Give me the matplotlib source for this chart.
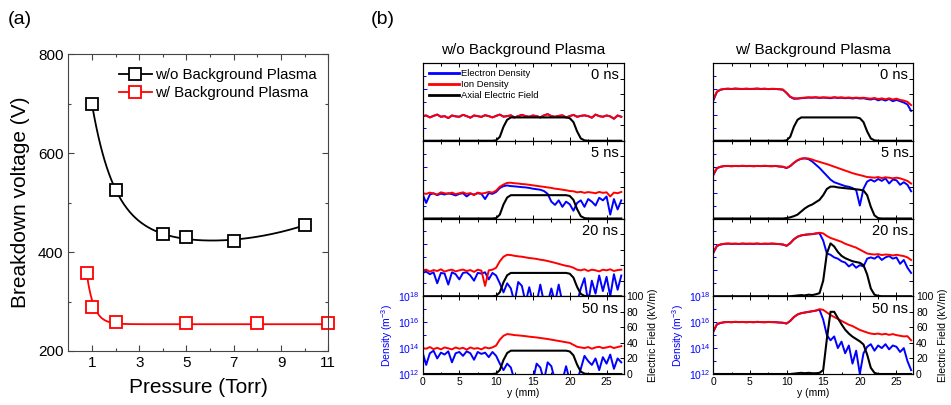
import numpy as np
import matplotlib
matplotlib.use("Agg")
import matplotlib.pyplot as plt
from matplotlib.lines import Line2D
from matplotlib.ticker import FixedLocator, NullFormatter, MultipleLocator, LogFormatterMathtext

plt.rcParams['font.family'] = ['Liberation Sans', 'DejaVu Sans']
plt.rcParams['mathtext.fontset'] = 'custom'
plt.rcParams['mathtext.rm'] = 'Liberation Sans'
plt.rcParams['mathtext.it'] = 'Liberation Sans:italic'

# ---------------- panel (a) data ----------------
pressure_wo = [1, 2, 4, 5, 7, 10]
voltage_wo = [700, 525, 437, 430, 422, 455]
pressure_w = [0.8, 1, 2, 5, 8, 11]
voltage_w = [358, 288, 258, 256, 256, 256]
label_wo = "w/o Background Plasma"
label_w = "w/ Background Plasma"

# ---------------- panel (b) data (log10 density, field in kV/m) ----------------
y_step = 0.5  # mm, sampling of the traces below (0 ... 27 mm)
times = ["0 ns", "5 ns", "20 ns", "50 ns"]

L0_ion = [13.90, 13.95, 13.80, 13.92, 14.02, 13.85, 13.90, 13.75, 13.95, 13.88,
          13.85, 14.00, 13.90, 13.78, 13.95, 13.90, 13.84, 13.97, 13.90, 13.80,
          13.92, 14.02, 13.86, 13.90, 13.96, 13.80, 13.90, 14.00, 13.90, 13.85,
          13.95, 13.90, 13.80, 13.96, 14.05, 13.90, 13.85, 13.92, 13.96, 13.80,
          13.90, 14.00, 13.85, 13.92, 13.96, 13.90, 13.78, 14.02, 13.90, 13.85,
          13.95, 13.88, 13.70, 13.95, 13.85]
L0_ele = L0_ion
L5_ion = [13.95, 13.90, 14.00, 13.92, 13.85, 14.02, 13.95, 13.90, 14.00, 13.88,
          13.95, 14.02, 13.90, 13.96, 13.80, 14.00, 13.92, 13.97, 14.05, 14.00,
          14.15, 14.45, 14.62, 14.75, 14.76, 14.72, 14.70, 14.66, 14.64, 14.60,
          14.56, 14.52, 14.48, 14.44, 14.40, 14.36, 14.30, 14.27, 14.22, 14.18,
          14.12, 14.10, 14.02, 14.06, 13.98, 14.04, 14.00, 13.95, 14.05, 13.98,
          14.02, 13.70, 14.00, 13.95, 14.05]
L5_ele = [13.90, 13.20, 13.85, 13.95, 13.80, 13.92, 13.85, 13.95, 13.88, 13.78,
          13.90, 13.95, 13.70, 13.92, 13.85, 13.95, 13.90, 13.50, 13.96, 13.90,
          14.05, 14.35, 14.50, 14.55, 14.50, 14.48, 14.45, 14.42, 14.40, 14.36,
          14.30, 14.26, 14.22, 14.12, 13.90, 13.30, 13.05, 13.40, 12.90, 13.30,
          13.10, 12.60, 13.20, 13.40, 12.90, 13.50, 13.30, 13.00, 13.60, 13.40,
          13.70, 12.30, 13.50, 12.70, 13.40]
L20_ion = [14.00, 14.05, 13.90, 14.02, 13.95, 14.08, 13.90, 14.00, 14.05, 13.92,
           14.00, 14.06, 13.95, 14.02, 13.88, 14.05, 13.98, 12.80, 14.00, 14.05,
           14.20, 14.70, 15.05, 15.20, 15.18, 15.12, 15.08, 15.05, 15.00, 14.95,
           14.92, 14.88, 14.82, 14.78, 14.72, 14.65, 14.58, 14.50, 14.42, 14.35,
           14.30, 14.20, 14.05, 14.00, 14.08, 13.95, 14.05, 14.00, 13.92, 14.05,
           14.00, 14.08, 13.95, 14.02, 14.05]
L20_ele = [13.80, 13.90, 13.70, 13.85, 13.00, 13.80, 13.75, 12.90, 13.85, 13.70,
           13.30, 13.80, 13.85, 13.60, 13.20, 13.80, 13.75, 13.85, 13.30, 13.80,
           13.60, 13.00, 12.30, 13.00, 12.60, 11.50, 13.10, 12.80, 11.50, 12.70,
           11.50, 11.50, 12.90, 11.50, 11.50, 12.60, 11.50, 12.90, 11.50, 11.50,
           11.50, 11.50, 11.50, 12.60, 13.40, 11.50, 13.20, 12.20, 13.60, 12.40,
           13.50, 12.00, 13.70, 12.50, 13.60]
L50_ion = [14.00, 13.95, 14.08, 13.92, 14.02, 13.90, 14.05, 13.98, 13.90, 14.05,
           13.95, 14.02, 13.88, 14.05, 13.95, 14.00, 13.90, 14.06, 13.98, 14.05,
           14.20, 14.65, 14.95, 15.08, 15.05, 15.00, 14.98, 14.95, 14.92, 14.88,
           14.85, 14.82, 14.78, 14.74, 14.70, 14.65, 14.60, 14.55, 14.50, 14.45,
           14.40, 14.25, 14.10, 14.05, 14.00, 14.08, 13.95, 14.05, 14.10, 14.00,
           14.05, 14.12, 14.00, 14.08, 14.15]
L50_ele = [13.70, 12.70, 13.60, 13.80, 13.20, 13.65, 13.50, 13.75, 12.90, 13.60,
           13.70, 13.40, 13.75, 13.60, 13.10, 13.70, 13.55, 13.65, 13.30, 13.70,
           13.40, 12.80, 12.30, 12.80, 12.50, 11.50, 11.50, 11.50, 11.50, 11.50,
           11.50, 12.80, 12.50, 11.50, 12.90, 12.60, 11.50, 11.50, 11.50, 12.60,
           11.50, 11.50, 11.50, 12.40, 13.40, 13.00, 12.70, 13.20, 12.30, 13.30,
           12.80, 13.50, 12.40, 13.20, 12.90]

R0_ion = [15.20, 15.80, 15.95, 16.00, 16.02, 16.00, 16.03, 16.01, 16.00, 16.02,
          16.00, 16.01, 16.03, 16.00, 16.02, 15.99, 16.01, 16.00, 15.98, 15.95,
          15.70, 15.40, 15.28, 15.27, 15.30, 15.33, 15.35, 15.34, 15.36, 15.33,
          15.35, 15.34, 15.32, 15.36, 15.33, 15.35, 15.31, 15.34, 15.30, 15.33,
          15.30, 15.32, 15.28, 15.25, 15.30, 15.22, 15.27, 15.20, 15.28, 15.18,
          15.25, 15.15, 15.10, 15.00, 14.75]
R0_ele = [15.10, 15.78, 15.94, 15.99, 16.01, 15.99, 16.02, 16.00, 15.99, 16.01,
          15.99, 16.00, 16.02, 15.99, 16.01, 15.98, 16.00, 15.99, 15.97, 15.94,
          15.68, 15.38, 15.24, 15.25, 15.28, 15.31, 15.33, 15.32, 15.34, 15.30,
          15.33, 15.31, 15.28, 15.34, 15.30, 15.32, 15.28, 15.31, 15.26, 15.30,
          15.26, 15.28, 15.22, 15.18, 15.25, 15.12, 15.20, 15.10, 15.22, 15.05,
          15.15, 15.05, 14.95, 14.80, 14.30]
R5_ion = [15.40, 15.90, 16.00, 16.05, 16.06, 16.04, 16.06, 16.05, 16.07, 16.05,
          16.06, 16.04, 16.06, 16.05, 16.07, 16.05, 16.04, 16.06, 16.02, 16.00,
          15.90, 16.05, 16.30, 16.50, 16.62, 16.65, 16.63, 16.55, 16.45, 16.37,
          16.28, 16.20, 16.10, 16.00, 15.90, 15.80, 15.70, 15.60, 15.50, 15.42,
          15.35, 15.28, 15.20, 15.18, 15.15, 15.20, 15.12, 15.18, 15.15, 15.10,
          15.15, 15.10, 15.00, 14.90, 14.70]
R5_ele = [15.35, 15.88, 15.99, 16.04, 16.05, 16.03, 16.05, 16.04, 16.06, 16.04,
          16.05, 16.03, 16.05, 16.04, 16.06, 16.04, 16.03, 16.05, 16.01, 15.99,
          15.89, 16.04, 16.29, 16.49, 16.61, 16.64, 16.58, 16.40, 16.15, 15.90,
          15.60, 15.30, 15.00, 14.80, 14.70, 14.60, 14.50, 14.45, 14.35, 14.20,
          13.00, 14.30, 14.85, 15.00, 14.85, 15.05, 14.90, 15.10, 14.70, 15.00,
          14.95, 14.60, 14.80, 14.60, 14.10]
R20_ion = [15.40, 15.90, 16.00, 16.05, 16.07, 16.05, 16.06, 16.04, 16.07, 16.05,
           16.06, 16.05, 16.07, 16.04, 16.06, 16.05, 16.07, 16.05, 16.03, 16.00,
           15.90, 16.10, 16.40, 16.60, 16.70, 16.75, 16.78, 16.80, 16.85, 16.90,
           16.85, 16.65, 16.50, 16.40, 16.30, 16.20, 16.05, 15.95, 15.85, 15.75,
           15.60, 15.45, 15.30, 15.25, 15.22, 15.25, 15.18, 15.22, 15.20, 15.15,
           15.20, 15.15, 15.10, 15.00, 14.80]
R20_ele = [15.35, 15.88, 15.99, 16.04, 16.06, 16.04, 16.05, 16.03, 16.06, 16.04,
           16.05, 16.04, 16.06, 16.03, 16.05, 16.04, 16.06, 16.04, 16.02, 15.99,
           15.89, 16.09, 16.39, 16.59, 16.69, 16.74, 16.77, 16.79, 16.84, 16.86,
           16.30, 15.30, 15.20, 15.00, 14.90, 14.70, 14.60, 14.30, 14.50, 14.20,
           14.40, 14.30, 14.90, 15.00, 14.90, 15.10, 14.80, 15.00, 15.10, 14.90,
           15.00, 14.50, 14.80, 14.20, 13.80]
R50_ion = [15.30, 15.85, 15.95, 16.00, 16.02, 16.00, 16.03, 16.01, 16.02, 16.00,
           16.02, 16.00, 16.03, 16.01, 16.00, 16.02, 16.01, 16.00, 15.98, 15.96,
           15.90, 16.10, 16.40, 16.60, 16.70, 16.75, 16.80, 16.85, 16.90, 17.00,
           16.95, 16.75, 16.55, 16.40, 16.25, 16.10, 15.95, 15.80, 15.70, 15.55,
           15.40, 15.30, 15.20, 15.12, 15.08, 15.12, 15.05, 15.10, 15.02, 15.08,
           15.00, 14.95, 14.90, 14.92, 14.60]
R50_ele = [15.25, 15.83, 15.94, 15.99, 16.01, 15.99, 16.02, 16.00, 16.01, 15.99,
           16.01, 15.99, 16.02, 16.00, 15.99, 16.01, 16.00, 15.99, 15.97, 15.95,
           15.89, 16.09, 16.39, 16.59, 16.69, 16.74, 16.79, 16.84, 16.89, 16.96,
           16.20, 15.00, 14.60, 14.90, 14.00, 14.50, 13.60, 14.20, 12.80, 13.80,
           12.00, 13.60, 14.10, 14.30, 13.80, 14.20, 14.00, 14.30, 13.90, 14.20,
           14.10, 13.70, 14.00, 13.00, 12.30]

E_left = [0, 0, 0, 0, 0, 0, 0, 0, 0, 0,
          0, 0, 0, 0, 0, 0, 0, 0, 0, 0,
          0.5, 5, 18, 27, 30, 30, 30, 30, 30, 30,
          30, 30, 30, 30, 30, 30, 30, 30, 30, 30,
          29, 24, 12, 3, 0.5, 0, 0, 0, 0, 0,
          0, 0, 0, 0, 0]
E_R0 = E_left
E_R5 = [0, 0, 0, 0, 0, 0, 0, 0, 0, 0,
        0, 0, 0, 0, 0, 0, 0, 0, 0, 0,
        0.5, 1.5, 3, 5, 9, 13, 16, 18, 21, 24,
        30, 38, 41, 41, 40, 39.5, 39, 38.5, 38, 37.5,
        37, 36, 30, 15, 4, 0.5, 0, 0, 0, 0,
        0, 0, 0, 0, 0]
E_R20 = [0, 0, 0, 0, 0, 0, 0, 0, 0, 0,
         0, 0, 0, 0, 0, 0, 0, 0, 0, 0,
         0, 0, 0.5, 1, 1.5, 1, 2, 1.5, 2.5, 4,
         20, 55, 68, 64, 57, 52, 49, 47, 45, 44,
         43, 40, 28, 10, 2, 0.5, 0, 0, 0, 0,
         0, 0, 0, 0, 0]
E_R50 = [0, 0, 0, 0, 0, 0, 0, 0, 0, 0,
         0, 0, 0, 0, 0, 0, 0, 0, 0, 0,
         0, 0, 0.5, 1, 1.5, 1, 1.5, 1, 1, 1.5,
         5, 45, 80, 80, 72, 64, 57, 52, 48, 45,
         42, 38, 25, 8, 1.5, 0, 0, 0, 0, 0,
         0, 0, 0, 0, 0]

left_col = [(L0_ele, L0_ion, E_left), (L5_ele, L5_ion, E_left),
            (L20_ele, L20_ion, E_left), (L50_ele, L50_ion, E_left)]
right_col = [(R0_ele, R0_ion, E_R0), (R5_ele, R5_ion, E_R5),
             (R20_ele, R20_ion, E_R20), (R50_ele, R50_ion, E_R50)]

# ---------------- figure ----------------
W, H = 951, 405
fig = plt.figure(figsize=(W / 100, H / 100), dpi=100)


def rect(l, t, r, b):
    return [l / W, 1 - b / H, (r - l) / W, (b - t) / H]


# ---- panel (a) ----
ax = fig.add_axes(rect(68.3, 54.3, 328.3, 351))


def fit(x, y, bases, xs):
    x = np.asarray(x, float)
    A = np.column_stack([f(x) for f in bases])
    coef, *_ = np.linalg.lstsq(A, np.asarray(y, float), rcond=None)
    return np.column_stack([f(xs) for f in bases]) @ coef


xs_wo = np.linspace(min(pressure_wo), max(pressure_wo), 300)
curve_wo = fit(pressure_wo, voltage_wo,
               [np.ones_like, lambda x: np.exp(-(x - 1) / 0.9), lambda x: x, lambda x: x ** 2],
               xs_wo)
xs_w = np.linspace(min(pressure_w), max(pressure_w), 300)
curve_w = fit(pressure_w, voltage_w,
              [np.ones_like, lambda x: np.exp(-(x - 0.8) / 0.3)], xs_w)

ax.plot(xs_wo, curve_wo, color='black', lw=1.3)
ax.plot(xs_w, curve_w, color='red', lw=1.3, clip_on=False)
ax.plot(pressure_wo, voltage_wo, 's', mfc='white', mec='black', ms=8, mew=1.3, ls='none', clip_on=False)
ax.plot(pressure_w, voltage_w, 's', mfc='white', mec='red', ms=8, mew=1.3, ls='none', clip_on=False)
ax.set_xlim(0, 11)
ax.set_ylim(200, 800)
ax.xaxis.set_major_locator(FixedLocator([1, 3, 5, 7, 9, 11]))
ax.xaxis.set_minor_locator(FixedLocator([2, 4, 6, 8, 10]))
ax.yaxis.set_major_locator(MultipleLocator(200))
ax.yaxis.set_minor_locator(MultipleLocator(100))
ax.tick_params(which='both', direction='in', top=True, right=True, labelsize=11,
               color='#444444', width=0.8)
ax.tick_params(which='major', length=4)
ax.tick_params(which='minor', length=2.5)
for s in ax.spines.values():
    s.set_color('#444444')
    s.set_linewidth(0.8)
ax.set_xlabel('Pressure (Torr)', fontsize=15, labelpad=6)
ax.set_ylabel('Breakdown voltage (V)', fontsize=15, labelpad=6)
handles = [Line2D([], [], color='black', lw=1.3, marker='s', mfc='white', mec='black', ms=8, mew=1.3),
           Line2D([], [], color='red', lw=1.3, marker='s', mfc='white', mec='red', ms=8, mew=1.3)]
ax.legend(handles, [label_wo, label_w], loc='upper right', frameon=False, fontsize=10.8,
          handlelength=2.2, handletextpad=0.2, labelspacing=0.3, borderaxespad=0.4,
          bbox_to_anchor=(1.0, 0.995))

fig.text(8 / W, 1 - 19 / H, '(a)', fontsize=14, va='center', ha='left')
fig.text(371 / W, 1 - 19 / H, '(b)', fontsize=14, va='center', ha='left')

# ---- panel (b) ----
col_specs = [(422.5, 623.5, left_col, 'w/o Background Plasma'),
             (713.3, 913.3, right_col, 'w/ Background Plasma')]
top0, ph = 63.0, 77.75
for (cl, cr, col, title) in col_specs:
    fig.text((cl + cr) / 2 / W, 1 - 50 / H, title, fontsize=11, ha='center', va='center')
    for r, (ne, ni, ef) in enumerate(col):
        t = top0 + r * ph
        a = fig.add_axes(rect(cl, t, cr, t + ph))
        yy = np.arange(len(ni)) * y_step
        a.plot(yy, 10.0 ** np.asarray(ne), color='#0000ff', lw=1.4, label='Electron Density')
        a.plot(yy, 10.0 ** np.asarray(ni), color='#ff0000', lw=1.4, label='Ion Density')
        a.set_yscale('log')
        a.set_ylim(1e12, 1e18)
        a.set_xlim(0, 27.3)
        a.xaxis.set_major_locator(MultipleLocator(5))
        a.xaxis.set_minor_locator(MultipleLocator(2.5))
        a.yaxis.set_major_locator(FixedLocator([1e12, 1e14, 1e16, 1e18]))
        a.yaxis.set_minor_locator(FixedLocator([1e13, 1e15, 1e17]))
        a.yaxis.set_minor_formatter(NullFormatter())
        a.tick_params(axis='x', which='both', direction='in', top=True, labelsize=7.5,
                      width=0.7, pad=2)
        a.tick_params(axis='x', which='major', length=3)
        a.tick_params(axis='x', which='minor', length=1.8)
        a.tick_params(axis='y', which='both', direction='in', colors='blue', labelsize=7.5,
                      width=0.7, pad=2)
        a.tick_params(axis='y', which='major', length=3)
        a.tick_params(axis='y', which='minor', length=2)
        for s in a.spines.values():
            s.set_linewidth(0.8)
        ar = a.twinx()
        ar.plot(yy, ef, color='black', lw=1.5, label='Axial Electric Field')
        ar.set_ylim(0, 100)
        ar.yaxis.set_major_locator(MultipleLocator(20))
        ar.tick_params(axis='y', direction='in', length=3, width=0.7, labelsize=7.5, pad=2)
        a.text(0.975, 0.93, times[r], transform=a.transAxes, ha='right', va='top', fontsize=10.5)
        if r < 3:
            a.tick_params(labelbottom=False)
            a.yaxis.set_major_formatter(NullFormatter())
            ar.tick_params(labelright=False)
        else:
            a.yaxis.set_major_formatter(LogFormatterMathtext())
            a.set_xlabel('y (mm)', fontsize=7.5, labelpad=1)
            a.set_ylabel('Density (m$^{-3}$)', color='blue', fontsize=7.5, labelpad=2)
            ar.set_ylabel('Electric Field (kV/m)', fontsize=7.5, labelpad=3)
        if r == 0 and col is left_col:
            hl = [Line2D([], [], color='#0000ff', lw=2), Line2D([], [], color='#ff0000', lw=2),
                  Line2D([], [], color='black', lw=2)]
            ar.legend(hl, ['Electron Density', 'Ion Density', 'Axial Electric Field'],
                      loc='upper left', frameon=False, fontsize=6.8, handlelength=3.2,
                      handletextpad=0.2, labelspacing=0.2, borderaxespad=0.25)

fig.savefig('out.png', dpi=100)
